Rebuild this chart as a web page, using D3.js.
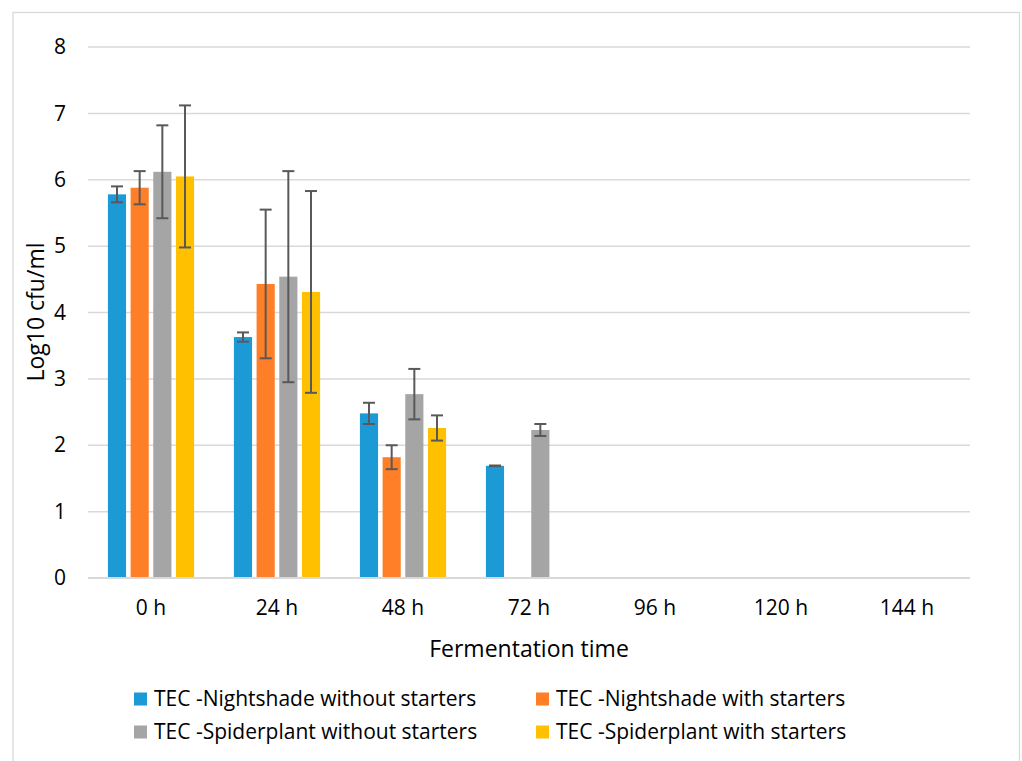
<!DOCTYPE html>
<html><head><meta charset="utf-8">
<script src="https://cdn.jsdelivr.net/npm/d3@7"></script>
<style>
html,body{margin:0;padding:0;background:#fff;}
svg{display:block;font-family:"Open Sans","Noto Sans",sans-serif;}
</style></head>
<body><svg id="chart" width="1022" height="761"></svg>
<script>
const categories = ["0 h","24 h","48 h","72 h","96 h","120 h","144 h"];
const seriesNames = ["TEC -Nightshade without starters","TEC -Nightshade with starters","TEC -Spiderplant without starters","TEC -Spiderplant with starters"];
const seriesColors = ["#1b9ad6","#fe7f27","#a5a5a5","#ffc000"];
const nightshadeWithout = [5.78, 3.63, 2.48, 1.69, 0, 0, 0];
const nightshadeWith    = [5.88, 4.43, 1.82, 0, 0, 0, 0];
const spiderWithout     = [6.12, 4.54, 2.77, 2.23, 0, 0, 0];
const spiderWith        = [6.05, 4.31, 2.26, 0, 0, 0, 0];
const errNightshadeWithout = [0.12, 0.07, 0.16, 0.005, null, null, null];
const errNightshadeWith    = [0.25, 1.12, 0.18, null, null, null, null];
const errSpiderWithout     = [0.70, 1.59, 0.38, 0.09, null, null, null];
const errSpiderWith        = [1.07, 1.52, 0.19, null, null, null, null];
const yTicks = [0,1,2,3,4,5,6,7,8];

const values = [nightshadeWithout, nightshadeWith, spiderWithout, spiderWith];
const errors = [errNightshadeWithout, errNightshadeWith, errSpiderWithout, errSpiderWith];

const svg = d3.select("#chart");
const mLeft = 88, mRight = 970, mTop = 47, mBottom = 578;

// outer border
svg.append("rect").attr("x",13).attr("y",12.5).attr("width",1006.5).attr("height",800)
  .attr("fill","none").attr("stroke","#d9d9d9").attr("stroke-width",1.3);

const x0 = d3.scaleBand().domain(categories).range([mLeft,mRight]).paddingInner(0.28).paddingOuter(0.14);
const x1 = d3.scaleBand().domain(d3.range(4)).range([0,x0.bandwidth()]).paddingInner(0.2).paddingOuter(0.1);
const y = d3.scaleLinear().domain([0,8]).range([mBottom,mTop]);

// gridlines
svg.append("g").selectAll("line").data(yTicks.filter(d=>d>0)).join("line")
  .attr("x1",mLeft).attr("x2",mRight).attr("y1",d=>y(d)).attr("y2",d=>y(d))
  .attr("stroke","#d9d9d9").attr("stroke-width",1.5);

// y axis labels
const yAxis = d3.axisLeft(y).tickValues(yTicks).tickSize(0).tickPadding(22).tickFormat(d3.format("d"));
const gy = svg.append("g").attr("transform",`translate(${mLeft},0)`).call(yAxis);
gy.select(".domain").remove();
gy.selectAll("text").attr("font-size",21).attr("fill","#000").attr("font-family","Open Sans");

// bars
const groups = svg.append("g").selectAll("g").data(categories).join("g")
  .attr("transform",d=>`translate(${x0(d)},0)`);
groups.each(function(cat,ci){
  const g = d3.select(this);
  for(let s=0;s<4;s++){
    const v = values[s][ci];
    if(v>0){
      g.append("rect").attr("x",x1(s)).attr("y",y(v)).attr("width",x1.bandwidth()).attr("height",y(0)-y(v))
        .attr("fill",seriesColors[s]);
    }
  }
  for(let s=0;s<4;s++){
    const v = values[s][ci], e = errors[s][ci];
    if(e!=null){
      const cx = x1(s)+x1.bandwidth()/2;
      const eg = g.append("g").attr("stroke","#595959").attr("stroke-width",2);
      eg.append("line").attr("x1",cx).attr("x2",cx).attr("y1",y(v+e)).attr("y2",y(v-e));
      eg.append("line").attr("x1",cx-6).attr("x2",cx+6).attr("y1",y(v+e)).attr("y2",y(v+e));
      eg.append("line").attr("x1",cx-6).attr("x2",cx+6).attr("y1",y(v-e)).attr("y2",y(v-e));
    }
  }
});

// x axis line
svg.append("line").attr("x1",mLeft).attr("x2",mRight).attr("y1",mBottom).attr("y2",mBottom)
  .attr("stroke","#d9d9d9").attr("stroke-width",2);

const xAxis = d3.axisBottom(x0).tickSize(0).tickPadding(22);
const gx = svg.append("g").attr("transform",`translate(0,${mBottom})`).call(xAxis);
gx.select(".domain").remove();
gx.selectAll("text").attr("font-size",21).attr("fill","#000").attr("font-family","Open Sans");

// axis titles
svg.append("text").attr("x",(mLeft+mRight)/2).attr("y",657).attr("text-anchor","middle")
  .attr("font-size",23).attr("fill","#000").text("Fermentation time");
svg.append("text").attr("transform","translate(44,312) rotate(-90)").attr("text-anchor","middle")
  .attr("font-size",23).attr("fill","#000").text("Log10 cfu/ml");

// legend
const legPos = [[134,699],[536,699],[134,732],[536,732]];
const leg = svg.append("g").selectAll("g").data(seriesNames).join("g")
  .attr("transform",(d,i)=>`translate(${legPos[i][0]},${legPos[i][1]})`);
leg.append("rect").attr("x",0).attr("y",-6.5).attr("width",13).attr("height",13).attr("fill",(d,i)=>seriesColors[i]);
leg.append("text").attr("x",20).attr("y",0).attr("dy","0.35em").attr("font-size",21).attr("fill","#000").text(d=>d);
</script></body></html>
